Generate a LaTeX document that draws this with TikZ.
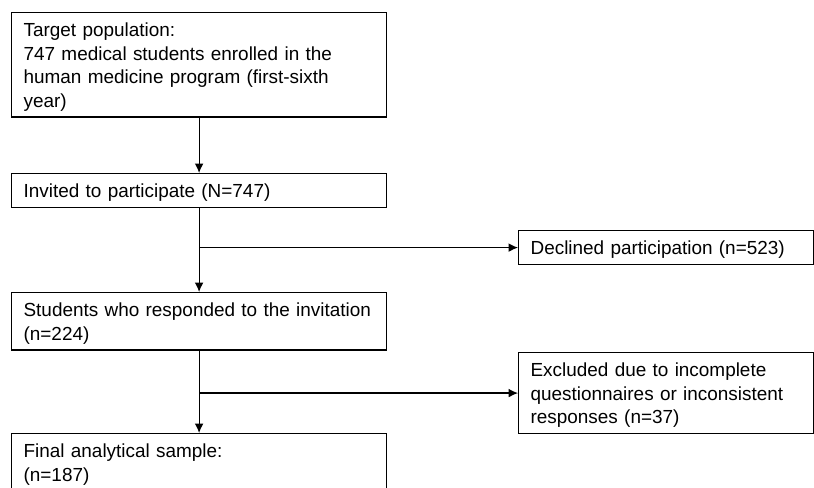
\documentclass[tikz,border=0pt]{standalone}
\usepackage{fontspec}
\setmainfont{Liberation Sans}
\usetikzlibrary{arrows.meta}

\newcommand{\boxfont}{\fontsize{14.2pt}{17.6pt}\selectfont}
\newcommand{\boxtext}[1]{\rule{0pt}{18pt}#1\rule[-7.5pt]{0pt}{7.5pt}}

\begin{document}
\begin{tikzpicture}[x=0.75pt,y=-0.75pt,
  flowbox/.style={draw, line width=0.9pt, anchor=north west, inner xsep=9pt, inner ysep=0pt,
                  align=left, text width=#1, font=\boxfont},
  flowbox/.default=263.25pt,
  arr/.style={>={Latex[length=7pt,width=6.5pt]}, ->, line width=0.9pt}]


%\draw(0,0) grid ++ (814,487);

\clip (0,0) rectangle (814,487);


% main column
\node[flowbox] (target) at (11,12) {\boxtext{Target population:\\
747 medical students enrolled in the\\
human medicine program (first-sixth\\
year)}};

\node[flowbox] (invited) at (11,173) {\boxtext{Invited to participate (N=747)}};

\node[flowbox] (responded) at (11,292) {\boxtext{Students who responded to the invitation\\
(n=224)}};

\node[flowbox] (final) at (11,433) {\boxtext{Final analytical sample:\\
(n=187)}};


% side boxes
\node[flowbox=203.25pt] (declined) at (518,230) {\boxtext{Declined participation (n=523)}};

\node[flowbox=203.25pt] (excluded) at (518,352) {\boxtext{Excluded due to incomplete\\
questionnaires or inconsistent\\
responses (n=37)}};


\draw[arr] (target.south) -- (invited.north);
\draw[arr] (invited.south) -- (responded.north);
\draw[arr] (responded.south) -- (final.north);

\draw[arr] (invited.south |- declined.west) -- (declined.west);
\draw[arr] (responded.south |- excluded.west) -- (excluded.west);

\end{tikzpicture}
\end{document}
